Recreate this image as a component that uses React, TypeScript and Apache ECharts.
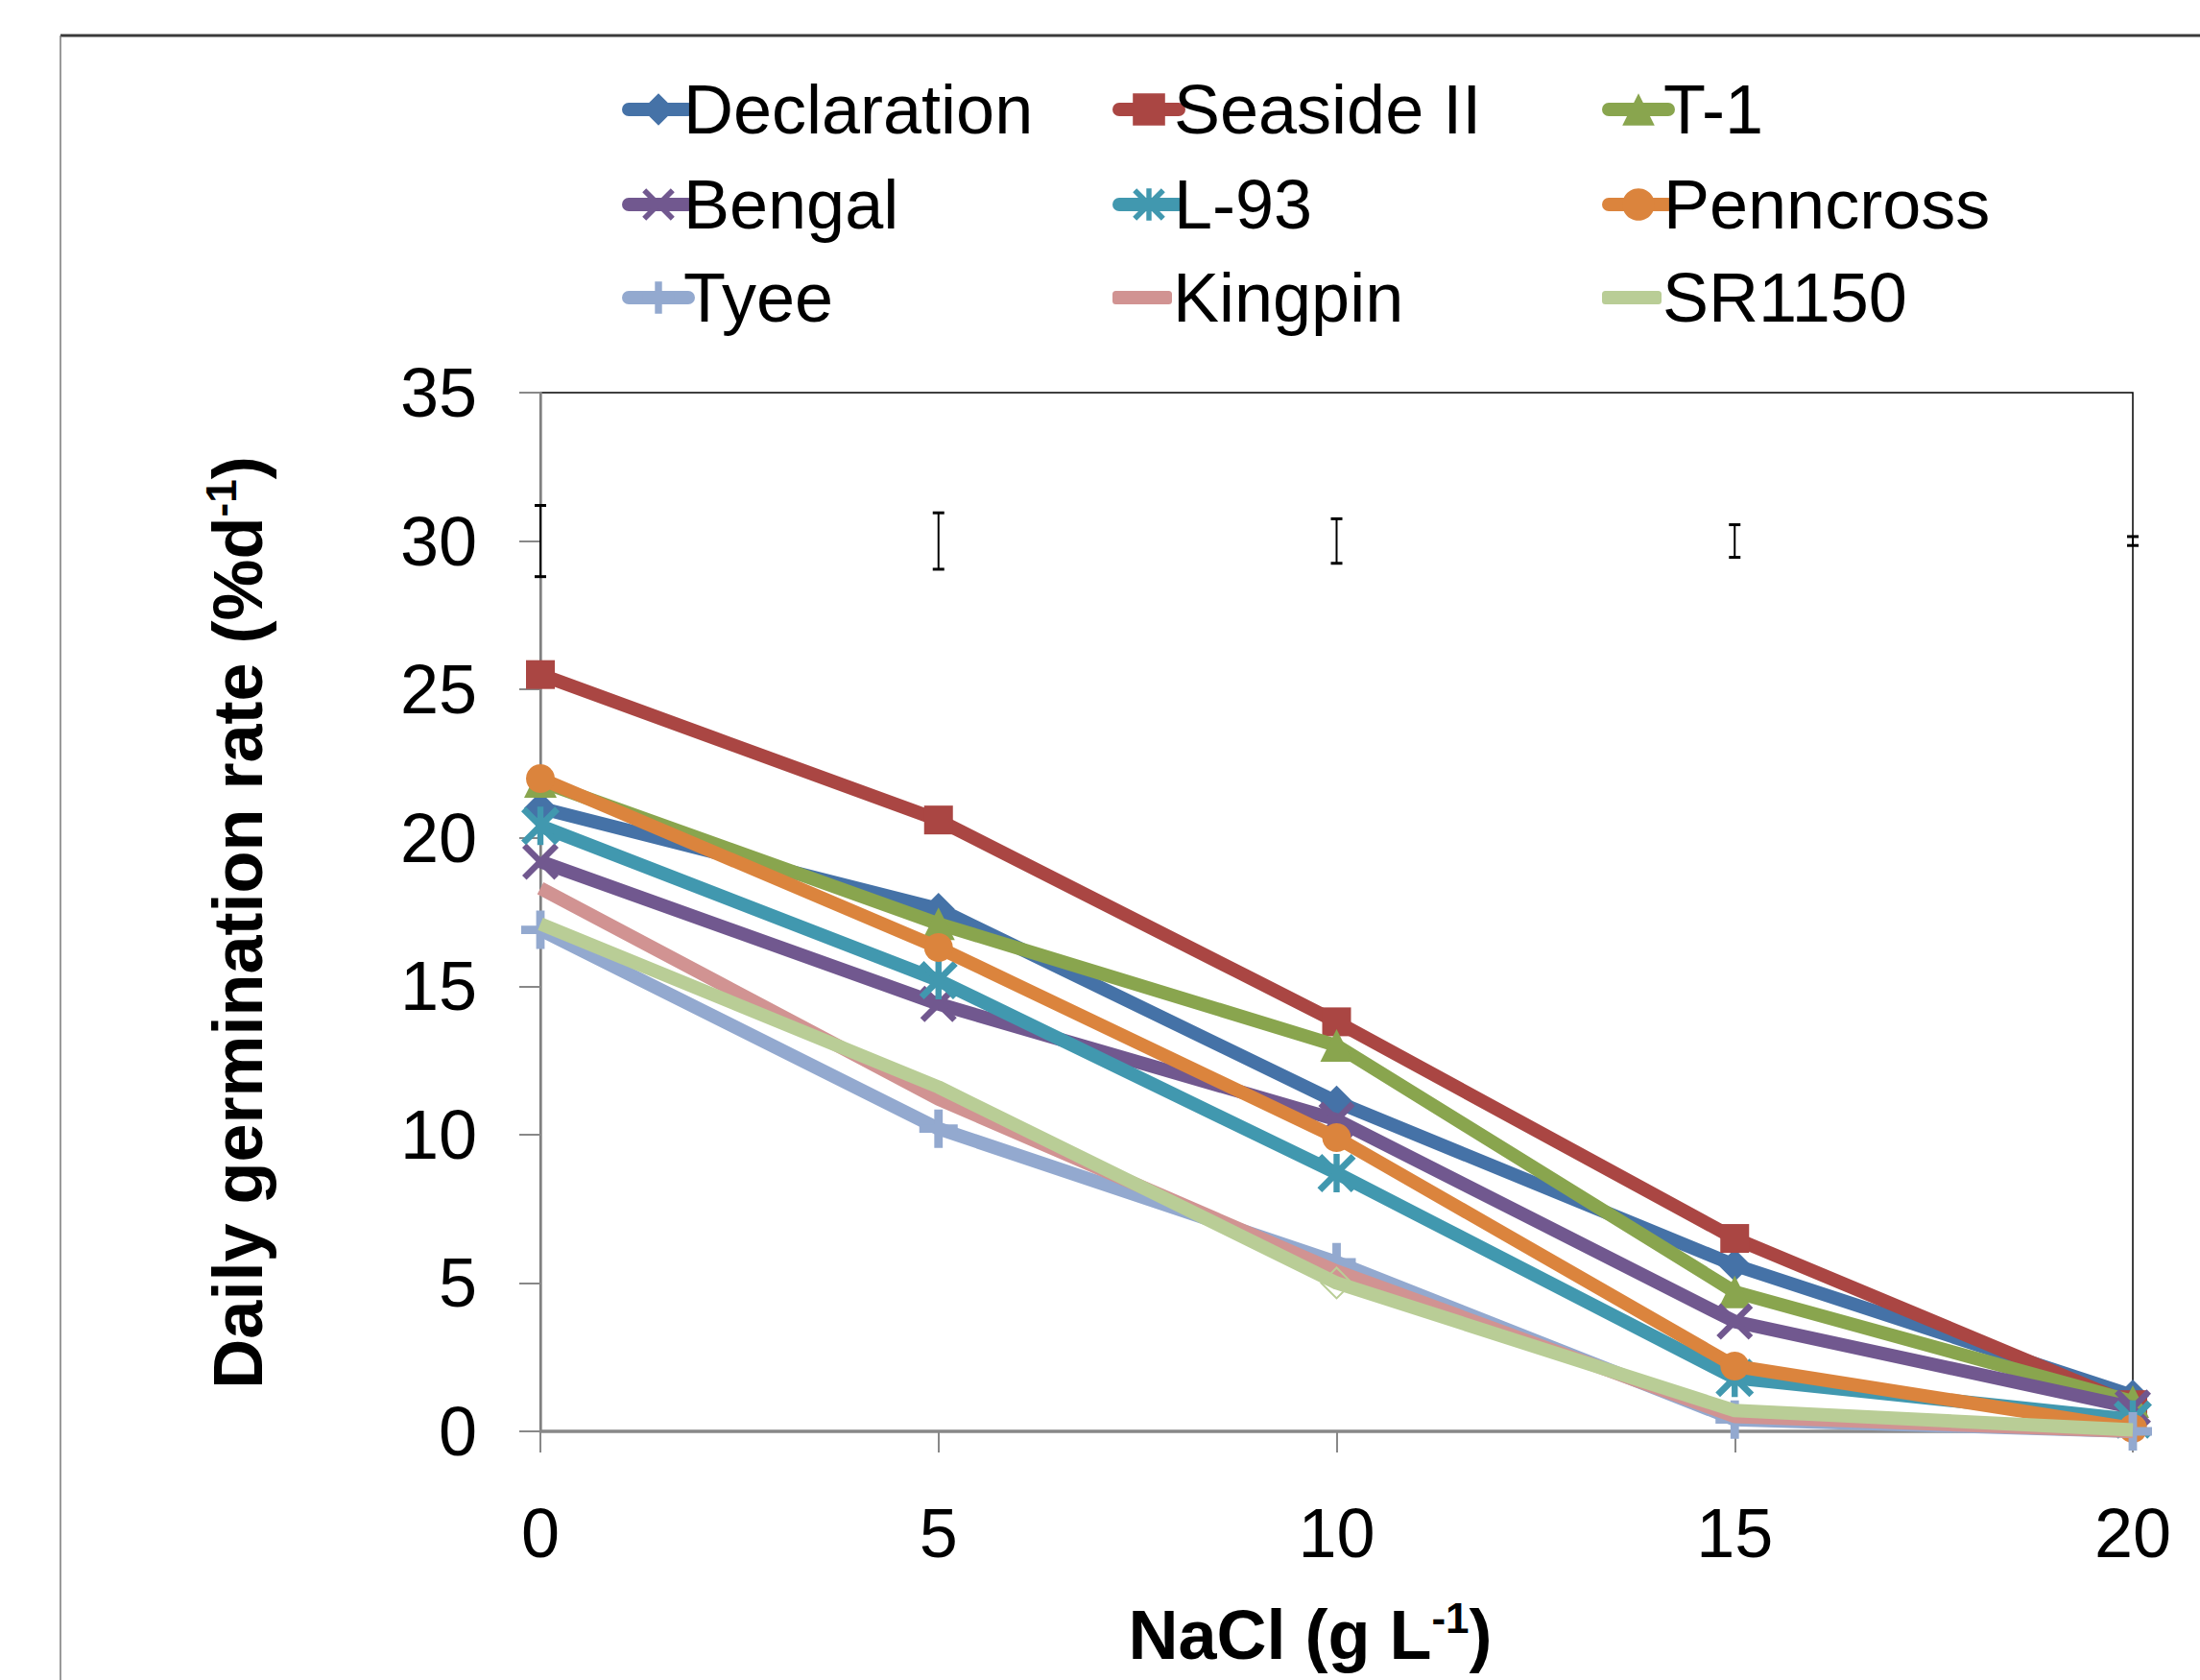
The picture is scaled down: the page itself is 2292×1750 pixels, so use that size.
import React, { useEffect, useRef } from "react";
import * as echarts from "echarts";

const xValues = [0, 5, 10, 15, 20];
const seriesNames = ["Declaration", "Seaside II", "T-1", "Bengal", "L-93", "Penncross", "Tyee", "Kingpin", "SR1150"];
const declaration = [21.0, 17.6, 11.1, 5.6, 1.2];
const seasideII = [25.5, 20.6, 13.8, 6.5, 0.9];
const t1 = [21.9, 17.1, 13.0, 4.7, 1.0];
const bengal = [19.2, 14.4, 10.5, 3.7, 0.8];
const l93 = [20.4, 15.2, 8.7, 1.8, 0.4];
const penncross = [22.0, 16.3, 9.9, 2.2, 0.1];
const tyee = [16.9, 10.2, 5.7, 0.4, 0.0];
const kingpin = [18.3, 11.2, 5.4, 0.5, 0.0];
const sr1150 = [17.1, 11.6, 5.0, 0.7, 0.05];
const seriesValues = [declaration, seasideII, t1, bengal, l93, penncross, tyee, kingpin, sr1150];
const errCenter = [30, 30, 30, 30, 30];
const errHalf = [1.2, 0.95, 0.75, 0.55, 0.15];

const FONT = "'Liberation Sans', Arial, sans-serif";

const X_PATH = "path://M0,1.2 L1.2,0 L5,3.8 L8.8,0 L10,1.2 L6.2,5 L10,8.8 L8.8,10 L5,6.2 L1.2,10 L0,8.8 L3.8,5 Z";
const STAR_PATH = "path://M0,1.2 L1.2,0 L5,3.8 L8.8,0 L10,1.2 L6.2,5 L10,8.8 L8.8,10 L5,6.2 L1.2,10 L0,8.8 L3.8,5 Z M4.2,0 L5.8,0 L5.8,10 L4.2,10 Z";
const PLUS_PATH = "path://M3.9,0 L6.1,0 L6.1,3.9 L10,3.9 L10,6.1 L6.1,6.1 L6.1,10 L3.9,10 L3.9,6.1 L0,6.1 L0,3.9 L3.9,3.9 Z";

const LINE_W = 14;

const styles = [
  { color: "#4572A7", symbol: "diamond", size: 34 },
  { color: "#AA4643", symbol: "rect", size: 30 },
  { color: "#89A54E", symbol: "triangle", size: 34 },
  { color: "#71588F", symbol: X_PATH, size: 38 },
  { color: "#4198AF", symbol: STAR_PATH, size: 40 },
  { color: "#DB843D", symbol: "circle", size: 30 },
  { color: "#93A9CF", symbol: PLUS_PATH, size: 40 },
  { color: "#D19392", symbol: "none", size: 0 },
  { color: "#B9CD96", symbol: "none", size: 0 },
];
// SR1150 shows a hollow diamond marker at 10 g/L
const hollowMarkers: Record<number, number[]> = { 8: [2] };

const legendCols = [648, 1159, 1669];
const legendRows = [114, 213, 310];

export default function App() {
  const ref = useRef<HTMLDivElement>(null);
  useEffect(() => {
    document.body.style.margin = "0";
    const chart = echarts.init(ref.current!, null, { renderer: "svg" });

    const lineSeries = seriesNames.map((name, i) => {
      const hollow = hollowMarkers[i] || [];
      return {
        name,
        type: "line",
        data: xValues.map((x, j) =>
          hollow.includes(j)
            ? {
                value: [x, seriesValues[i][j]],
                symbol: "diamond",
                symbolSize: 32,
                itemStyle: { color: "none", borderColor: styles[i].color, borderWidth: 2 },
              }
            : [x, seriesValues[i][j]]
        ),
        symbol: styles[i].symbol,
        symbolSize: styles[i].size,
        showSymbol: true,
        showAllSymbol: true,
        clip: false,
        lineStyle: { width: LINE_W, color: styles[i].color, join: "round" },
        itemStyle: { color: styles[i].color },
        z: 3 + i,
      };
    });

    const errSeries = {
      type: "custom",
      name: "err",
      data: xValues.map((x, j) => [x, errCenter[j], errHalf[j]]),
      encode: { x: 0, y: 1 },
      clip: false,
      z: 20,
      renderItem: (params: any, api: any) => {
        const x = api.value(0);
        const c = api.value(1);
        const h = api.value(2);
        const top = api.coord([x, c + h]);
        const bot = api.coord([x, c - h]);
        const cw = 6;
        return {
          type: "group",
          children: [
            { type: "line", shape: { x1: top[0], y1: top[1], x2: bot[0], y2: bot[1] }, style: { stroke: "#000", lineWidth: 2 } },
            { type: "line", shape: { x1: top[0] - cw, y1: top[1], x2: top[0] + cw, y2: top[1] }, style: { stroke: "#000", lineWidth: 3 } },
            { type: "line", shape: { x1: bot[0] - cw, y1: bot[1], x2: bot[0] + cw, y2: bot[1] }, style: { stroke: "#000", lineWidth: 3 } },
          ],
        };
      },
    };

    const legends = seriesNames.map((name, i) => {
      const noMarker = styles[i].symbol === "none";
      return {
        data: [noMarker ? { name, icon: "roundRect" } : name],
        left: legendCols[i % 3],
        top: legendRows[Math.floor(i / 3)] - 40,
        padding: 0,
        itemWidth: 62,
        itemHeight: noMarker ? LINE_W : 42,
        selectedMode: false,
        lineStyle: { width: LINE_W, cap: "round" },
        textStyle: { fontSize: 72, color: "#000", fontFamily: FONT, lineHeight: 80, padding: [0, 0, 0, noMarker ? -4 : -10] },
      };
    });

    const option: any = {
      animation: false,
      backgroundColor: "#fff",
      textStyle: { fontFamily: FONT },
      legend: legends,
      grid: { left: 563, right: 70, top: 409, bottom: 259, show: true, borderColor: "#000", borderWidth: 1.5, backgroundColor: "transparent" },
      xAxis: {
        type: "value",
        min: 0,
        max: 20,
        interval: 5,
        splitLine: { show: false },
        axisLine: { show: true, onZero: false, lineStyle: { color: "#888888", width: 3.5 } },
        axisTick: { show: true, length: 22, lineStyle: { color: "#888888", width: 2 } },
        axisLabel: { fontSize: 72, color: "#000", margin: 70, fontFamily: FONT },
      },
      yAxis: {
        type: "value",
        min: 0,
        max: 35,
        interval: 5,
        splitLine: { show: false },
        axisLine: { show: true, onZero: false, lineStyle: { color: "#888888", width: 2.5 } },
        axisTick: { show: true, length: 22, lineStyle: { color: "#888888", width: 2 } },
        axisLabel: { fontSize: 72, color: "#000", margin: 66, fontFamily: FONT },
      },
      graphic: [
        { type: "line", shape: { x1: 63, y1: 37, x2: 2292, y2: 37 }, style: { stroke: "#3a3a3a", lineWidth: 3 } },
        { type: "line", shape: { x1: 63, y1: 37, x2: 63, y2: 1750 }, style: { stroke: "#777", lineWidth: 1.5 } },
        {
          type: "text",
          x: 248,
          y: 961,
          rotation: Math.PI / 2,
          style: {
            text: "Daily germination rate (%d{sup|-1})",
            fontSize: 72,
            fontWeight: "bold",
            fontFamily: FONT,
            fill: "#000",
            align: "center",
            verticalAlign: "middle",
            lineHeight: 80,
            rich: { sup: { fontSize: 44, fontWeight: "bold", fontFamily: FONT, verticalAlign: "top", lineHeight: 50 } },
          },
        },
        {
          type: "text",
          x: 1365,
          y: 1703,
          style: {
            text: "NaCl (g L{sup|-1})",
            fontSize: 72,
            fontWeight: "bold",
            fontFamily: FONT,
            fill: "#000",
            align: "center",
            verticalAlign: "middle",
            lineHeight: 80,
            rich: { sup: { fontSize: 44, fontWeight: "bold", fontFamily: FONT, verticalAlign: "top", lineHeight: 50 } },
          },
        },
      ],
      series: [errSeries, ...lineSeries],
    };
    chart.setOption(option);
    return () => chart.dispose();
  }, []);
  return <div ref={ref} style={{ width: 2292, height: 1750 }} />;
}
